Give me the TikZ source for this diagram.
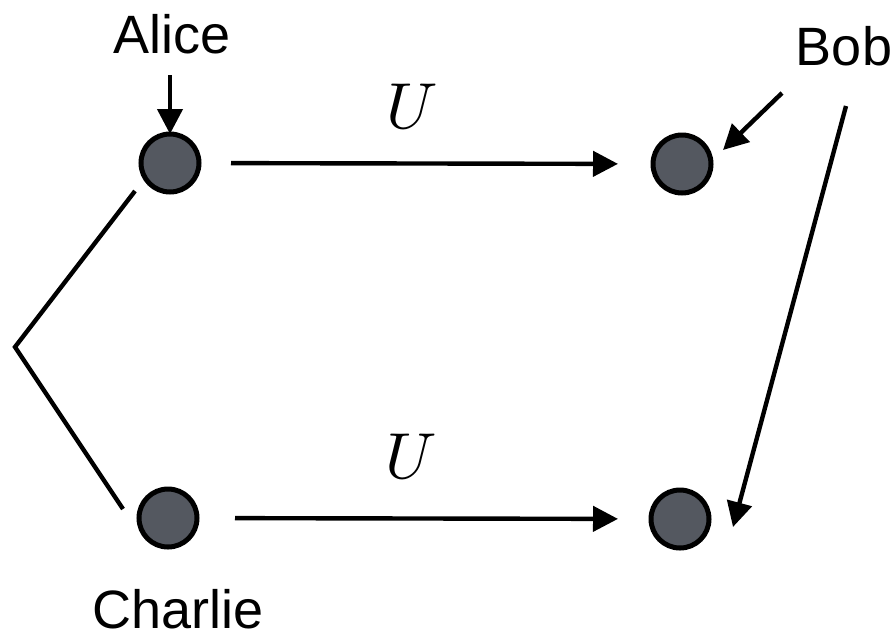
\documentclass[tikz,border=0pt]{standalone}
\usepackage{graphicx}
\usepackage{fontspec}
\setmainfont{Liberation Sans}
\usetikzlibrary{arrows.meta}
\definecolor{qubitgray}{RGB}{84,88,96}
\newcommand{\gateU}{\scalebox{6.5}{$U$}}
\begin{document}
\begin{tikzpicture}[x=1pt,y=-1pt,
  qubit/.style={circle,draw=black,fill=qubitgray,line width=5pt,minimum size=58pt,inner sep=0pt,outer sep=0pt},
  partyname/.style={anchor=base,inner sep=0pt,font=\fontsize{54}{60}\selectfont},
  oplabel/.style={anchor=base,inner sep=0pt},
  link/.style={line width=4.4pt},
  tip/.style={line width=4.4pt,-{Triangle[length=25pt,width=25pt]}}]
\useasboundingbox (0,0) rectangle (894,633);

% qubits
\node[qubit] (A) at (170,163) {};
\node[qubit] (B1) at (682,164) {};
\node[qubit] (C) at (168,518) {};
\node[qubit] (B2) at (680,519) {};

% party names and gate labels
\node[partyname] (alice) at (172,53) {Alice};
\node[partyname] (bob) at (844,65) {Bob};
\node[partyname,text depth=0pt] (charlie) at (178,628) {Charlie};
\node[oplabel] (u1) at (412,128) {\gateU};
\node[oplabel] (u2) at (411,478) {\gateU};

% gates acting on Alice and Charlie
\draw[tip,shorten <=32pt,shorten >=35pt] (A) -- (B1);
\draw[tip,shorten <=38pt,shorten >=33pt] (C) -- (B2);

% entanglement bracket between Alice and Charlie
\coordinate (v) at (15,347);
\coordinate (bt) at (135,191);
\coordinate (bb) at (123,509);
\draw[link] (bt) -- (v) -- (bb);

% pointers from the names to their qubits
\coordinate (aS) at (170,75);
\draw[tip] (aS) -- (A);
\coordinate (bS1) at (782,93);
\coordinate (bE1) at (723,150);
\draw[tip] (bS1) -- (bE1);
\coordinate (bS2) at (846,106);
\coordinate (bE2) at (733,527);
\draw[tip] (bS2) -- (bE2);
\end{tikzpicture}
\end{document}
